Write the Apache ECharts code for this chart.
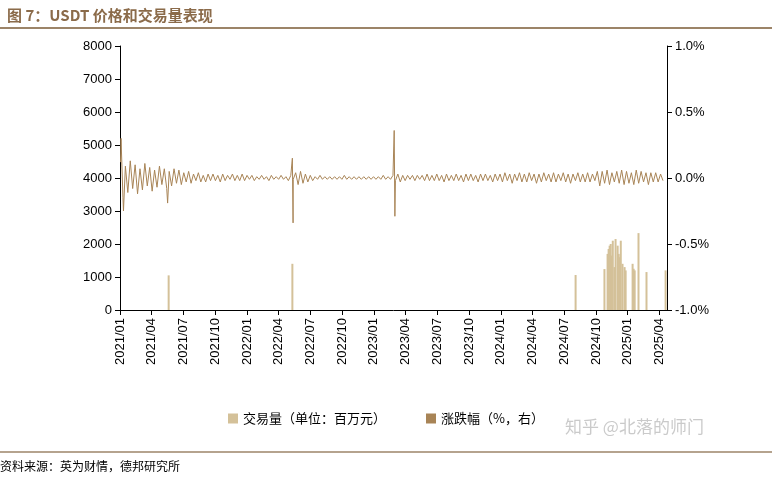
<!DOCTYPE html>
<html><head><meta charset="utf-8">
<script src="https://cdn.jsdelivr.net/npm/echarts@6/dist/echarts.min.js"></script>
<style>body{margin:0;background:#fff}#c{width:772px;height:480px}</style>
</head><body><div id="c"></div>
<script>
// Weekly daily-change samples (%), starting 2021-01-01, one per 7 days
const pctWeekly = [
0.12,-0.15,0.09,-0.11,0.13,-0.08,0.1,-0.12,0.07,-0.09,0.11,-0.06,0.08,-0.1,0.06,-0.07,0.09,-0.05,0.07,-0.08,0.05,-0.06,0.07,-0.04,0.06,-0.05,
0.04,-0.03,0.05,-0.04,0.03,-0.02,0.04,-0.03,0.02,-0.03,0.03,-0.02,0.03,-0.02,0.02,-0.03,0.03,-0.02,0.02,-0.01,0.03,-0.02,0.02,-0.02,0.03,-0.02,
0.02,-0.01,0.02,-0.02,0.01,-0.01,0.02,-0.01,0.01,-0.02,0.02,-0.01,0.01,-0.01,0.02,-0.01,0.01,-0.02,0.02,-0.01,0.04,-0.05,0.05,-0.04,0.03,-0.03,0.02,-0.02,0.01,-0.01,0.02,-0.01,0.01,-0.01,0.01,-0.01,0.01,-0.01,0.01,-0.01,0.02,-0.01,0.01,-0.01,0.01,-0.01,0.01,-0.01,0.01,-0.01,0.01,-0.01,
0.01,-0.01,0.01,-0.01,0.02,-0.01,0.01,-0.01,0.02,-0.02,0.03,-0.03,0.02,-0.02,0.02,-0.01,0.02,-0.02,0.02,-0.01,0.02,-0.02,0.03,-0.02,0.02,-0.02,0.03,-0.02,0.02,-0.03,0.03,-0.02,0.02,-0.02,0.03,-0.02,0.02,-0.03,0.03,-0.02,0.03,-0.02,0.02,-0.03,0.03,-0.02,0.03,-0.02,0.02,-0.03,0.03,-0.02,
0.03,-0.03,0.04,-0.02,0.03,-0.04,0.03,-0.02,0.04,-0.03,0.03,-0.03,0.04,-0.02,0.03,-0.04,0.03,-0.03,0.04,-0.02,0.03,-0.03,0.04,-0.03,0.03,-0.02,0.04,-0.03,0.03,-0.04,0.03,-0.02,0.04,-0.03,0.03,-0.03,0.04,-0.03,0.03,-0.02,0.05,-0.06,0.05,-0.04,0.06,-0.05,0.04,-0.03,0.05,-0.04,0.06,-0.05,
0.05,-0.04,0.04,-0.05,0.06,-0.04,0.05,-0.03,0.04,-0.05,0.04,-0.03,0.04,-0.03,0.03,-0.02
];
// Spikes: [day since 2021-01-01, % change]
const pctSpikes = [[3,0.3],[10,-0.25],[137,-0.19],[496,0.15],[498,-0.34],[789,0.36],[791,-0.29]];
// Volume (million): [day since 2021-01-01, value]
const volume = [[140,1050],[496,1400],[1311,1060],[1394,1240],[1403,1700],[1406,1850],[1409,1950],[1412,2000],[1415,1650],[1418,2100],[1423,1300],[1426,2150],[1432,1950],[1435,1700],[1438,1600],[1441,2100],[1446,1400],[1452,1300],[1455,1200],[1475,1400],[1478,1250],[1481,1200],[1492,2330],[1515,1150],[1570,1200]];

let line = pctWeekly.map((v,i)=>[i*7+1.5,v]);
line = line.concat(pctSpikes).sort((a,b)=>a[0]-b[0]);

const Q = 365.25/4;
function lab(v){const m=Math.round(v/30.4375);const y=2021+Math.floor(m/12);const mm=m%12+1;return y+'/'+(mm<10?'0':'')+mm;}
const ch = echarts.init(document.getElementById('c'));
const txt = {color:'#000',fontFamily:'Liberation Sans, Arial',fontSize:13};
ch.setOption({
  animation:false,
  title:{text:'图 7：USDT 价格和交易量表现',left:2,top:3,textStyle:{color:'#8B6B4A',fontSize:15,fontWeight:'bold',fontFamily:'Noto Sans CJK SC'}},
  graphic:[
    {type:'line',shape:{x1:0,y1:28,x2:772,y2:28},style:{stroke:'#9C8468',lineWidth:2}},
    {type:'line',shape:{x1:0,y1:452,x2:772,y2:452},style:{stroke:'#9C8468',lineWidth:1.5}},
    {type:'text',left:0,top:460,style:{text:'资料来源：英为财情，德邦研究所',fontSize:12,fill:'#000',fontFamily:'Noto Sans CJK SC'}},
    {type:'text',left:565,top:418,style:{text:'知乎 @北落的师门',fontSize:17,fill:'rgba(180,180,180,0.7)',fontFamily:'Noto Sans CJK SC'}}
  ],
  legend:{bottom:50,left:'center',itemWidth:10,itemHeight:10,itemGap:40,icon:'rect',textStyle:{fontSize:13,fontFamily:'Noto Sans CJK SC',color:'#000'},
    data:['交易量（单位：百万元）','涨跌幅（%，右）']},
  grid:{left:120,right:105,top:46,bottom:170},
  xAxis:{type:'value',min:0,max:1574,interval:Q,splitLine:{show:false},
    axisLine:{lineStyle:{color:'#000'}},axisTick:{lineStyle:{color:'#000'}},
    axisLabel:Object.assign({rotate:90,formatter:lab,showMaxLabel:false},txt)},
  yAxis:[
    {type:'value',min:0,max:8000,interval:1000,splitLine:{show:false},axisLine:{show:true,lineStyle:{color:'#000'}},axisTick:{show:true},axisLabel:Object.assign({formatter:v=>String(v)},txt)},
    {type:'value',min:-1,max:1,interval:0.5,splitLine:{show:false},axisLine:{show:true,lineStyle:{color:'#000'}},axisTick:{show:true},axisLabel:Object.assign({formatter:v=>v.toFixed(1)+'%'},txt)}
  ],
  series:[
    {name:'交易量（单位：百万元）',type:'bar',data:volume,barWidth:2,itemStyle:{color:'#D4C199'}},
    {name:'涨跌幅（%，右）',type:'line',yAxisIndex:1,data:line,symbol:'none',lineStyle:{color:'#A88456',width:1},itemStyle:{color:'#A88456'}}
  ]
});
</script></body></html>
